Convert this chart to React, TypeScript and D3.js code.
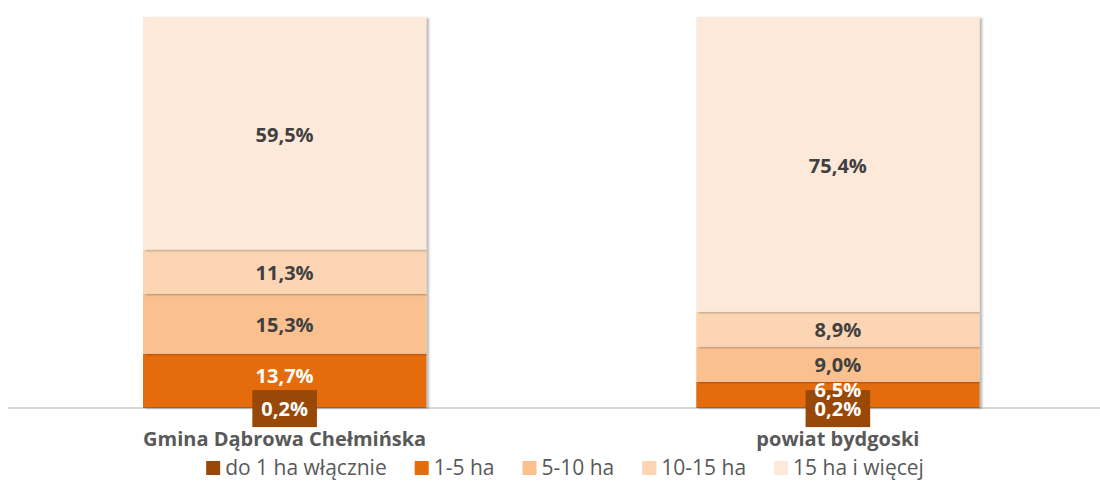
import React, { useEffect, useRef } from 'react';
import * as d3 from 'd3';

const categories = ['Gmina Dąbrowa Chełmińska', 'powiat bydgoski'];
const seriesNames = ['do 1 ha włącznie', '1-5 ha', '5-10 ha', '10-15 ha', '15 ha i więcej'];
const gminaValues = [0.2, 13.7, 15.3, 11.3, 59.5];
const powiatValues = [0.2, 6.5, 9.0, 8.9, 75.4];
const seriesColors = ['#984807', '#E46C0A', '#FAC090', '#FCD5B5', '#FDE9D9'];
const labelColors = ['#ffffff', '#ffffff', '#404040', '#404040', '#404040'];

const width = 1100;
const height = 481;
const baseline = 408;
const plotTop = 17;
const font = '"Open Sans", "DejaVu Sans", sans-serif';

const plLocale = d3.formatLocale({ decimal: ',', thousands: ' ', grouping: [3], currency: ['', ' zł'] });
const fmt = plLocale.format('.1f');

const App = () => {
  const ref = useRef<SVGSVGElement>(null);

  useEffect(() => {
    const table = categories.map((c, i) => {
      const vals = i === 0 ? gminaValues : powiatValues;
      const row: any = { category: c };
      seriesNames.forEach((s, j) => (row[s] = vals[j]));
      return row;
    });

    const stacked = d3.stack().keys(seriesNames)(table);

    const x = d3
      .scaleBand()
      .domain(categories)
      .range([8, 1114.5])
      .paddingInner(0.488)
      .paddingOuter(0.244);

    const y = d3.scaleLinear().domain([0, 100]).range([baseline, plotTop]);

    const svg = d3.select(ref.current);
    svg.selectAll('*').remove();

    const defs = svg.append('defs');
    const filter = defs
      .append('filter')
      .attr('id', 'barShadow')
      .attr('x', '-5%')
      .attr('y', '-5%')
      .attr('width', '115%')
      .attr('height', '130%');
    filter
      .append('feDropShadow')
      .attr('dx', 2.5)
      .attr('dy', 1)
      .attr('stdDeviation', 1.2)
      .attr('flood-color', '#000')
      .attr('flood-opacity', 0.3);

    // category axis
    svg
      .append('line')
      .attr('x1', 8)
      .attr('x2', width)
      .attr('y1', baseline)
      .attr('y2', baseline)
      .attr('stroke', '#d9d9d9')
      .attr('stroke-width', 2);

    // bars
    const layers = svg
      .append('g')
      .selectAll('g')
      .data(stacked)
      .join('g')
      .attr('fill', (d, i) => seriesColors[i]);

    layers
      .selectAll('rect')
      .data((d) => d)
      .join('rect')
      .attr('x', (d: any) => x(d.data.category)!)
      .attr('width', x.bandwidth())
      .attr('y', (d) => y(d[1]))
      .attr('height', (d) => y(d[0]) - y(d[1]))
      .attr('filter', 'url(#barShadow)');

    // value labels
    const labels = svg.append('g').attr('font-family', font).attr('font-weight', 700).attr('font-size', 20);

    stacked.forEach((layer, i) => {
      layer.forEach((d: any) => {
        const cx = x(d.data.category)! + x.bandwidth() / 2;
        const v = d.data[layer.key];
        let cy = (y(d[0]) + y(d[1])) / 2 + 1;
        if (i === 1) cy -= 6;
        const g = labels.append('g');
        const t = g
          .append('text')
          .attr('x', cx)
          .attr('y', cy)
          .attr('dy', '0.36em')
          .attr('text-anchor', 'middle')
          .attr('fill', labelColors[i])
          .text(`${fmt(v)}%`);
        if (i === 0) {
          const bb = (t.node() as SVGTextElement).getBBox();
          g.insert('rect', 'text')
            .attr('x', cx - bb.width / 2 - 9)
            .attr('y', cy - 18.5)
            .attr('width', bb.width + 18)
            .attr('height', 37)
            .attr('fill', seriesColors[0]);
        }
      });
    });

    // category labels
    svg
      .append('g')
      .selectAll('text')
      .data(categories)
      .join('text')
      .attr('x', (d) => x(d)! + x.bandwidth() / 2)
      .attr('y', 446)
      .attr('text-anchor', 'middle')
      .attr('font-family', font)
      .attr('font-weight', 700)
      .attr('font-size', 20)
      .attr('fill', '#595959')
      .text((d) => d);

    // legend
    const legend = svg.append('g').attr('font-family', font).attr('font-size', 21).attr('fill', '#595959');
    let cursor = 0;
    seriesNames.forEach((name, i) => {
      const item = legend.append('g').attr('transform', `translate(${cursor},0)`);
      item.append('rect').attr('x', 0).attr('y', 461).attr('width', 14).attr('height', 14).attr('fill', seriesColors[i]);
      const t = item.append('text').attr('x', 19).attr('y', 475).text(name);
      const w = (t.node() as SVGTextElement).getComputedTextLength();
      cursor += 19 + w + 28;
    });
    const legendWidth = cursor - 28;
    legend.attr('transform', `translate(${565 - legendWidth / 2},0)`);
  }, []);

  return (
    <svg
      ref={ref}
      width={width}
      height={height}
      style={{ position: 'absolute', left: 0, top: 0, background: '#fff' }}
    />
  );
};

export default App;
